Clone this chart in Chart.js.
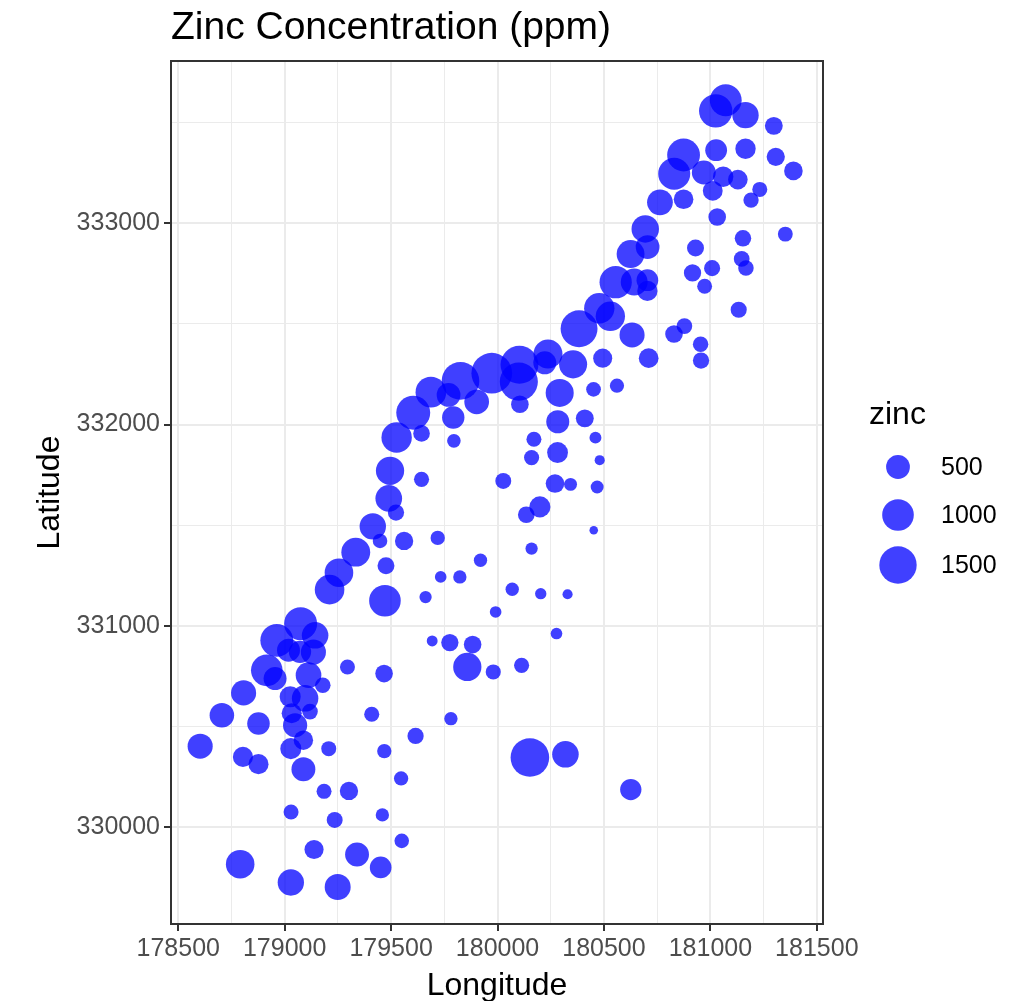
<!DOCTYPE html>
<html>
<head>
<meta charset="utf-8">
<script src="https://cdn.jsdelivr.net/npm/chart.js@4.4.1/dist/chart.umd.min.js"></script>
<style>
    html, body { margin: 0; padding: 0; background: #ffffff; }
    #wrap { width: 1016px; height: 1001px; }
</style>
</head>
<body>
<div id="wrap"><canvas id="myChart" width="1016" height="1001"></canvas></div>
<script>
// sample points (Meuse river survey)
const longitude = [
    181072, 181025, 181165, 181298, 181307, 181390, 181165, 181027, 181060, 181232,
    181191, 181032, 180874, 180969, 181011, 180830, 180763, 180694, 180625, 180555,
    180642, 180704, 180704, 181153, 181147, 181167, 181008, 180973, 180916, 181352,
    181133, 180878, 180829, 180954, 180956, 180710, 180632, 180530, 180478, 180383,
    180494, 180561, 180451, 180410, 180355, 180292, 180283, 180282, 180270, 180199,
    180135, 180237, 180103, 179973, 179826, 179687, 179792, 179902, 180100, 179604,
    179526, 179495, 179489, 179414, 179334, 179255, 179211,
    181129, 180874, 180705, 180930, 180105, 180460, 179643, 179795, 180171, 180160,
    180480, 179643, 180027, 180343, 180468, 179523, 179448, 179561, 179719, 180452,
    180160, 179920, 179733, 179823, 180069, 180203, 180329, 179662, 179471, 179476,
    179991, 180277, 179693, 179776, 179883, 179858, 179980, 180113, 179781, 180152,
    180319, 180626, 179075, 179143, 178963, 179018, 179135, 178916, 178955, 179112,
    179179, 178807, 179026, 179096, 179119, 179033, 179049, 178705, 178877, 178603,
    179088, 179029, 179207, 179468, 179615, 179295, 179467, 179409, 178804, 178877,
    179088, 179547, 179185, 179302, 179030, 179235, 179459, 179550, 179138, 179340,
    179451, 178791, 179029, 179249, 179770, 180222, 179072
];
const latitude = [
    333611, 333558, 333537, 333484, 333330, 333260, 333370, 333363, 333231, 333168,
    333115, 333031, 333339, 333252, 333161, 333246, 333104, 332972, 332847, 332707,
    332708, 332717, 332664, 332925, 332823, 332778, 332777, 332687, 332753, 332946,
    332570, 332489, 332450, 332399, 332318, 332330, 332445, 332538, 332578, 332476,
    332330, 332193, 332175, 332031, 332299, 332157, 332014, 331861, 331707, 331591,
    331552, 332351, 332297, 332255, 332217, 332161, 332035, 332113, 332213, 332059,
    331936, 331770, 331633, 331494, 331366, 331264, 331180,
    333217, 333119, 332882, 332877, 332101, 331935, 331956, 331919, 331927, 331836,
    331823, 331728, 331720, 331703, 331690, 331563, 331422, 331422, 331437, 331475,
    331384, 331326, 331243, 331243, 331182, 331160, 331157, 331143, 331125, 331299,
    331069, 330962, 330925, 330917, 330907, 330796, 330771, 330804, 330539, 330346,
    330362, 330187, 331011, 330953, 330928, 330879, 330870, 330779, 330738, 330755,
    330705, 330667, 330648, 330640, 330574, 330566, 330506, 330556, 330515, 330402,
    330432, 330390, 330390, 330378, 330453, 330796, 330763, 330561, 330349, 330313,
    330288, 330242, 330178, 330180, 330075, 330036, 330061, 329932, 329889, 329864,
    329800, 329816, 329725, 329703, 332147, 332307, 330871
];
const zinc = [
    1022, 1141, 640, 257, 269, 281, 346, 406, 347, 183,
    189, 251, 1096, 504, 326, 1032, 606, 711, 735, 1052,
    673, 402, 343, 218, 200, 194, 207, 180, 240, 180,
    208, 198, 250, 192, 213, 321, 569, 833, 906, 1454,
    298, 167, 176, 258, 746, 746, 464, 365, 282, 375,
    222, 812, 1548, 1839, 1528, 933, 432, 550, 1571, 1190,
    907, 761, 659, 643, 801, 784, 850,
    317, 317, 498, 231, 250, 132, 221, 155, 182, 185,
    117, 185, 204, 145, 145, 212, 173, 272, 168, 113,
    136, 151, 129, 151, 151, 126, 117, 136, 1000, 230,
    129, 129, 122, 241, 250, 760, 185, 185, 151, 1620,
    654, 384, 1110, 654, 1100, 460, 570, 1000, 460, 600,
    195, 570, 375, 650, 195, 335, 520, 540, 440, 570,
    310, 375, 182, 168, 212, 182, 250, 185, 335, 335,
    505, 168, 182, 272, 182, 204, 151, 173, 300, 505,
    400, 780, 640, 620, 500, 460, 430
];
const legendBreaks = [500, 1000, 1500];
const xTicks = [178500, 179000, 179500, 180000, 180500, 181000, 181500];
const xMinorTicks = [178750, 179250, 179750, 180250, 180750, 181250];
const yTicks = [330000, 331000, 332000, 333000];
const yMinorTicks = [329500, 330500, 331500, 332500, 333500];
const xRange = [178466, 181529];
const yRange = [329519, 333806];

const FONT = '"Liberation Sans", Arial, sans-serif';
const POINT_COLOR = 'rgba(0, 0, 255, 0.75)';
const zMin = Math.min(...zinc);
const zMax = Math.max(...zinc);

// area scale like ggplot scale_size (range 1..6)
function radiusFor(z) {
    const size = 1 + 5 * Math.sqrt((z - zMin) / (zMax - zMin));
    return 1.13 * (2.845 * size + 0.945);
}

const points = longitude.map((x, i) => ({ x: x, y: latitude[i] }));

const extras = {
    id: 'extras',
    afterDatasetsDraw(chart) {
        const { ctx, chartArea: a } = chart;
        ctx.save();
        ctx.strokeStyle = '#333333';
        ctx.lineWidth = 2;
        ctx.strokeRect(a.left, a.top, a.right - a.left, a.bottom - a.top);
        ctx.restore();
    },
    afterDraw(chart) {
        const ctx = chart.ctx;
        ctx.save();
        // title
        ctx.fillStyle = '#000000';
        ctx.font = '39px ' + FONT;
        ctx.textAlign = 'left';
        ctx.textBaseline = 'alphabetic';
        ctx.fillText('Zinc Concentration (ppm)', 171, 39);

        // size legend
        ctx.font = '32px ' + FONT;
        ctx.textBaseline = 'middle';
        ctx.fillText('zinc', 869, 415);
        const keyY = [467, 515, 565];
        ctx.font = '25px ' + FONT;
        legendBreaks.forEach((b, i) => {
            ctx.fillStyle = POINT_COLOR;
            ctx.beginPath();
            ctx.arc(898, keyY[i], radiusFor(b), 0, Math.PI * 2);
            ctx.fill();
            ctx.fillStyle = '#000000';
            ctx.fillText(String(b), 941, keyY[i] + 1);
        });
        ctx.restore();
    }
};

function setTicks(major, minor) {
    return scale => {
        scale.ticks = major.concat(minor).sort((a, b) => a - b)
            .filter(v => v >= scale.min && v <= scale.max)
            .map(v => ({ value: v }));
    };
}
function isMajor(list) {
    return c => !!c.tick && list.includes(c.tick.value);
}

const xMajor = isMajor(xTicks);
const yMajor = isMajor(yTicks);

const ctx = document.getElementById('myChart').getContext('2d');
new Chart(ctx, {
    type: 'scatter',
    data: {
        datasets: [{
            data: points,
            backgroundColor: POINT_COLOR,
            borderWidth: 0,
            pointRadius: c => radiusFor(zinc[c.dataIndex]),
            pointHoverRadius: c => radiusFor(zinc[c.dataIndex])
        }]
    },
    options: {
        responsive: false,
        animation: false,
        events: [],
        layout: { padding: { top: 61, right: 193, left: 0, bottom: 0 } },
        plugins: {
            legend: { display: false },
            title: { display: false },
            tooltip: { enabled: false }
        },
        scales: {
            x: {
                type: 'linear',
                min: xRange[0],
                max: xRange[1],
                afterBuildTicks: setTicks(xTicks, xMinorTicks),
                afterFit: s => { s.height = 77; },
                border: { display: false },
                grid: {
                    color: '#EBEBEB',
                    lineWidth: c => (xMajor(c) ? 2 : 1),
                    tickLength: 7,
                    tickWidth: 2,
                    tickColor: c => (xMajor(c) ? '#333333' : 'rgba(0,0,0,0)')
                },
                ticks: {
                    autoSkip: false,
                    maxRotation: 0,
                    padding: 3,
                    color: '#4D4D4D',
                    font: { family: FONT, size: 25 },
                    callback: v => (xTicks.includes(v) ? String(v) : '')
                },
                title: {
                    display: true,
                    text: 'Longitude',
                    color: '#000000',
                    font: { family: FONT, size: 32 },
                    padding: { top: 0, bottom: -4 }
                }
            },
            y: {
                type: 'linear',
                min: yRange[0],
                max: yRange[1],
                afterBuildTicks: setTicks(yTicks, yMinorTicks),
                afterFit: s => { s.width = 171; },
                border: { display: false },
                grid: {
                    color: '#EBEBEB',
                    lineWidth: c => (yMajor(c) ? 2 : 1),
                    tickLength: 7,
                    tickWidth: 2,
                    tickColor: c => (yMajor(c) ? '#333333' : 'rgba(0,0,0,0)')
                },
                ticks: {
                    autoSkip: false,
                    padding: 4,
                    color: '#4D4D4D',
                    font: { family: FONT, size: 25 },
                    callback: v => (yTicks.includes(v) ? String(v) : '')
                },
                title: {
                    display: true,
                    text: 'Latitude',
                    color: '#000000',
                    font: { family: FONT, size: 32 },
                    padding: { top: 31, bottom: 0 }
                }
            }
        }
    },
    plugins: [extras]
});
</script>
</body>
</html>
